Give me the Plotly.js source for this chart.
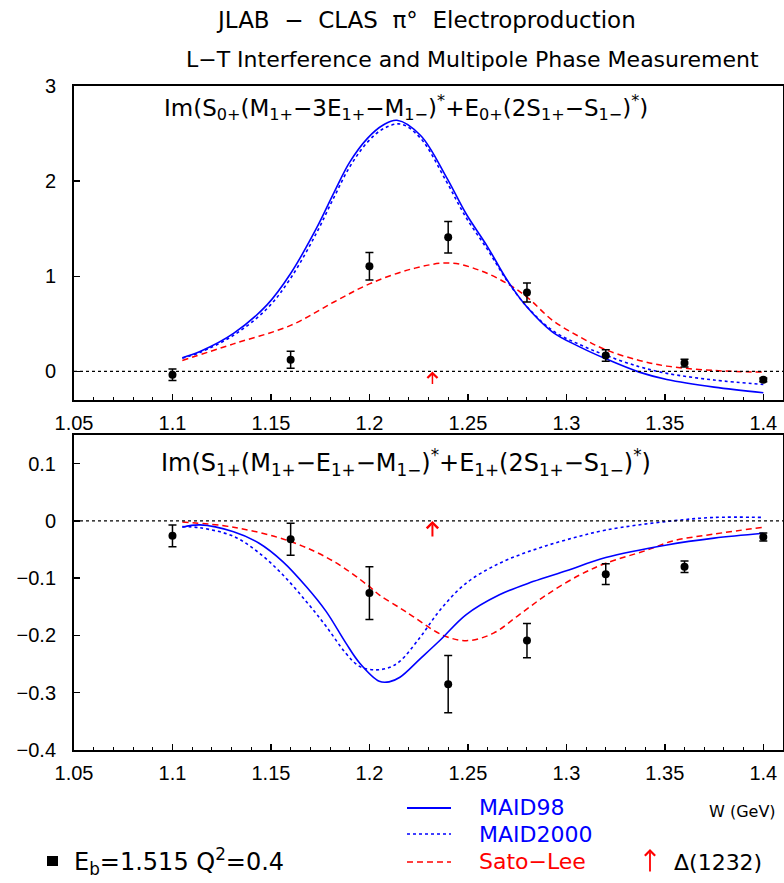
<!DOCTYPE html>
<html>
<head>
<meta charset="utf-8">
<script src="https://cdn.plot.ly/plotly-3.0.1.min.js"></script>
<style>
  html, body { margin: 0; padding: 0; background: #fff; }
  #chart { width: 784px; height: 883px; }
</style>
</head>
<body>
<div id="chart"></div>
<script>
// ---- measured points (W in GeV) ----
const W_DATA = [1.10, 1.16, 1.20, 1.24, 1.28, 1.32, 1.36, 1.40];

// Im(S0+(M1+ - 3E1+ - M1-)* + E0+(2S1+ - S1-)*)
const S0_VAL = [-0.035, 0.123, 1.105, 1.41, 0.83, 0.168, 0.088, -0.088];
const S0_ERR = [0.06, 0.09, 0.145, 0.165, 0.10, 0.06, 0.04, 0.02];

// Im(S1+(M1+ - E1+ - M1-)* + E1+(2S1+ - S1-)*)
const S1_VAL = [-0.026, -0.032, -0.126, -0.285, -0.209, -0.093, -0.080, -0.028];
const S1_ERR = [0.019, 0.028, 0.046, 0.05, 0.03, 0.018, 0.01, 0.007];

// ---- model curves, upper panel ----
const TOP_MAID98_W = [1.105, 1.114, 1.131, 1.148, 1.160, 1.173, 1.182, 1.190, 1.199, 1.207, 1.214, 1.226, 1.239, 1.249, 1.260, 1.270, 1.280, 1.293, 1.307, 1.320, 1.337, 1.351, 1.375, 1.400];
const TOP_MAID98_V = [0.145, 0.21, 0.40, 0.70, 1.03, 1.50, 1.88, 2.20, 2.45, 2.59, 2.64, 2.48, 2.045, 1.66, 1.31, 0.958, 0.677, 0.414, 0.256, 0.133, -0.007, -0.084, -0.165, -0.224];

const TOP_MAID2000_W = [1.105, 1.114, 1.131, 1.148, 1.160, 1.173, 1.182, 1.190, 1.199, 1.207, 1.216, 1.226, 1.239, 1.249, 1.260, 1.270, 1.280, 1.293, 1.307, 1.320, 1.337, 1.351, 1.375, 1.400];
const TOP_MAID2000_V = [0.14, 0.20, 0.38, 0.66, 0.98, 1.45, 1.83, 2.15, 2.41, 2.55, 2.60, 2.45, 2.0, 1.62, 1.28, 0.95, 0.68, 0.43, 0.28, 0.17, 0.05, -0.02, -0.09, -0.137];

const TOP_SATOLEE_W = [1.105, 1.131, 1.160, 1.182, 1.200, 1.222, 1.241, 1.256, 1.270, 1.280, 1.293, 1.307, 1.320, 1.337, 1.351, 1.375, 1.400];
const TOP_SATOLEE_V = [0.116, 0.29, 0.484, 0.73, 0.92, 1.08, 1.14, 1.063, 0.923, 0.782, 0.537, 0.361, 0.228, 0.116, 0.056, 0.01, -0.007];

// ---- model curves, lower panel ----
const BOT_MAID98_W = [1.105, 1.114, 1.131, 1.144, 1.156, 1.168, 1.178, 1.188, 1.195, 1.205, 1.210, 1.2155, 1.226, 1.236, 1.249, 1.266, 1.283, 1.300, 1.320, 1.351, 1.375, 1.400];
const BOT_MAID98_V = [-0.011, -0.007, -0.019, -0.039, -0.071, -0.115, -0.158, -0.213, -0.248, -0.280, -0.281, -0.273, -0.240, -0.208, -0.164, -0.129, -0.106, -0.087, -0.064, -0.042, -0.030, -0.0215];

const BOT_MAID2000_W = [1.105, 1.114, 1.131, 1.144, 1.156, 1.168, 1.178, 1.188, 1.195, 1.203, 1.210, 1.2155, 1.226, 1.236, 1.249, 1.266, 1.283, 1.300, 1.320, 1.351, 1.375, 1.400];
const BOT_MAID2000_V = [-0.010, -0.012, -0.027, -0.056, -0.094, -0.141, -0.184, -0.231, -0.254, -0.260, -0.256, -0.245, -0.202, -0.155, -0.109, -0.074, -0.051, -0.033, -0.016, -0.001, 0.006, 0.006];

const BOT_SATOLEE_W = [1.105, 1.131, 1.160, 1.182, 1.199, 1.2053, 1.2155, 1.2222, 1.2375, 1.250, 1.263, 1.276, 1.290, 1.307, 1.320, 1.341, 1.354, 1.375, 1.400];
const BOT_SATOLEE_V = [-0.002, -0.011, -0.036, -0.071, -0.112, -0.13, -0.152, -0.167, -0.200, -0.209, -0.196, -0.164, -0.129, -0.094, -0.074, -0.051, -0.035, -0.023, -0.011];

// Delta(1232) resonance position
const DELTA_W = 1.232;

// ---- tick labels ----
const X_TICKS = [1.05, 1.1, 1.15, 1.2, 1.25, 1.3, 1.35, 1.4];
const X_TICK_TEXT = ['1.05', '1.1', '1.15', '1.2', '1.25', '1.3', '1.35', '1.4'];
const Y1_TICKS = [0, 1, 2, 3];
const Y2_TICKS = [-0.4, -0.3, -0.2, -0.1, 0, 0.1];
const Y2_TICK_TEXT = ['\u22120.4', '\u22120.3', '\u22120.2', '\u22120.1', '0', '0.1'];

// ---- page geometry helpers (pixels -> paper) ----
const PW = 784, PH = 883;
const px = v => v / PW;
const py = v => 1 - v / PH;

const FONT = 'Liberation Sans, Arial, sans-serif';
const TFONT = 'DejaVu Sans, sans-serif';
const BLUE = '#0000ff', RED = '#ff0000';
const SP = '\u00a0';

function curve(x, y, xa, ya, color, dash, width) {
  return {
    x: x, y: y, xaxis: xa, yaxis: ya, type: 'scatter', mode: 'lines',
    line: { color: color, dash: dash, width: width, shape: 'spline', smoothing: 1 },
    hoverinfo: 'skip', showlegend: false
  };
}
function points(y, err, xa, ya) {
  return {
    x: W_DATA, y: y, xaxis: xa, yaxis: ya, type: 'scatter', mode: 'markers',
    marker: { color: '#000', size: 8, symbol: 'circle' },
    error_y: { type: 'data', array: err, visible: true, color: '#000', thickness: 1.5, width: 4 },
    showlegend: false
  };
}

const traces = [
  curve(TOP_SATOLEE_W, TOP_SATOLEE_V, 'x', 'y', RED, '6px,4px', 1.5),
  curve(TOP_MAID2000_W, TOP_MAID2000_V, 'x', 'y', BLUE, 'dot', 1.6),
  curve(TOP_MAID98_W, TOP_MAID98_V, 'x', 'y', BLUE, 'solid', 1.6),
  points(S0_VAL, S0_ERR, 'x', 'y'),
  curve(BOT_SATOLEE_W, BOT_SATOLEE_V, 'x2', 'y2', RED, '6px,4px', 1.5),
  curve(BOT_MAID2000_W, BOT_MAID2000_V, 'x2', 'y2', BLUE, 'dot', 1.6),
  curve(BOT_MAID98_W, BOT_MAID98_V, 'x2', 'y2', BLUE, 'solid', 1.6),
  points(S1_VAL, S1_ERR, 'x2', 'y2')
];

const xCommon = {
  range: [1.05, 1.41], tickmode: 'array', tickvals: X_TICKS, ticktext: X_TICK_TEXT,
  ticks: 'inside', ticklen: 6, tickwidth: 1.5, tickcolor: '#000',
  minor: { ticks: 'inside', ticklen: 3, dtick: 0.01, tickcolor: '#000', tickwidth: 1 },
  showline: true, linecolor: '#000', linewidth: 2, mirror: true,
  showgrid: false, zeroline: false,
  tickfont: { family: FONT, size: 20, color: '#000' }, ticklabelstandoff: 4,
  domain: [px(74), px(783)]
};
const yCommon = {
  ticks: 'inside', ticklen: 6, tickwidth: 1.5, tickcolor: '#000',
  showline: true, linecolor: '#000', linewidth: 2, mirror: true,
  showgrid: false, zeroline: false,
  tickfont: { family: FONT, size: 20, color: '#000' }, ticklabelstandoff: 12
};

const layout = {
  width: PW, height: PH,
  margin: { l: 0, r: 0, t: 0, b: 0 },
  paper_bgcolor: '#fff', plot_bgcolor: '#fff',
  showlegend: false,
  xaxis: Object.assign({}, xCommon, { anchor: 'y' }),
  xaxis2: Object.assign({}, xCommon, { anchor: 'y2' }),
  yaxis: Object.assign({}, yCommon, {
    anchor: 'x', range: [-0.3, 3], tickmode: 'array', tickvals: Y1_TICKS,
    domain: [py(400), py(86)]
  }),
  yaxis2: Object.assign({}, yCommon, {
    anchor: 'x2', range: [-0.4, 0.15], tickmode: 'array', tickvals: Y2_TICKS, ticktext: Y2_TICK_TEXT,
    domain: [py(750), py(435)]
  }),
  shapes: [
    // zero reference lines
    { type: 'line', xref: 'x domain', yref: 'y', x0: 0, x1: 1, y0: 0, y1: 0, line: { color: '#000', width: 1.2, dash: 'dot' } },
    { type: 'line', xref: 'x2 domain', yref: 'y2', x0: 0, x1: 1, y0: 0, y1: 0, line: { color: '#000', width: 1.2, dash: 'dot' } },
    // legend keys
    { type: 'line', xref: 'paper', yref: 'paper', x0: px(407), x1: px(451), y0: py(808), y1: py(808), line: { color: BLUE, width: 2 } },
    { type: 'line', xref: 'paper', yref: 'paper', x0: px(407), x1: px(451), y0: py(834), y1: py(834), line: { color: BLUE, width: 1.6, dash: 'dot' } },
    { type: 'line', xref: 'paper', yref: 'paper', x0: px(407), x1: px(451), y0: py(862), y1: py(862), line: { color: RED, width: 1.6, dash: '6px,4px' } },
    // beam-setting marker
    { type: 'rect', xref: 'paper', yref: 'paper', x0: px(47), x1: px(58), y0: py(866), y1: py(856), line: { width: 0 }, fillcolor: '#000' }
  ],
  annotations: [
    { xref: 'paper', yref: 'paper', x: px(426), y: py(20), xanchor: 'center', yanchor: 'middle', showarrow: false,
      text: 'JLAB' + SP + SP + '\u2212' + SP + SP + 'CLAS' + SP + SP + '\u03c0\u00b0' + SP + SP + 'Electroproduction', font: { family: TFONT, size: 23, color: '#000' } },
    { xref: 'paper', yref: 'paper', x: px(472), y: py(60), xanchor: 'center', yanchor: 'middle', showarrow: false,
      text: 'L\u2212T Interference and Multipole Phase Measurement', font: { family: TFONT, size: 22, color: '#000' } },
    { xref: 'paper', yref: 'paper', x: px(406), y: py(108), xanchor: 'center', yanchor: 'middle', showarrow: false,
      text: 'Im(S<sub>0+</sub>(M<sub>1+</sub>\u22123E<sub>1+</sub>\u2212M<sub>1\u2212</sub>)<sup>*</sup>+E<sub>0+</sub>(2S<sub>1+</sub>\u2212S<sub>1\u2212</sub>)<sup>*</sup>)',
      font: { family: TFONT, size: 23, color: '#000' } },
    { xref: 'paper', yref: 'paper', x: px(406), y: py(462), xanchor: 'center', yanchor: 'middle', showarrow: false,
      text: 'Im(S<sub>1+</sub>(M<sub>1+</sub>\u2212E<sub>1+</sub>\u2212M<sub>1\u2212</sub>)<sup>*</sup>+E<sub>1+</sub>(2S<sub>1+</sub>\u2212S<sub>1\u2212</sub>)<sup>*</sup>)',
      font: { family: TFONT, size: 24, color: '#000' } },
    // Delta(1232) markers
    { xref: 'x', yref: 'y', x: DELTA_W, y: 0, ax: 0, ay: 14, text: '', showarrow: true,
      arrowhead: 4, arrowsize: 1.3, arrowwidth: 1.5, arrowcolor: RED, standoff: 0 },
    { xref: 'x2', yref: 'y2', x: DELTA_W, y: 0, ax: 0, ay: 17, text: '', showarrow: true,
      arrowhead: 4, arrowsize: 1.1, arrowwidth: 2, arrowcolor: RED, standoff: 0 },
    // legend texts
    { xref: 'paper', yref: 'paper', x: px(477), y: py(807), xanchor: 'left', yanchor: 'middle', showarrow: false,
      text: 'MAID98', font: { family: TFONT, size: 22, color: BLUE } },
    { xref: 'paper', yref: 'paper', x: px(477), y: py(834), xanchor: 'left', yanchor: 'middle', showarrow: false,
      text: 'MAID2000', font: { family: TFONT, size: 22, color: BLUE } },
    { xref: 'paper', yref: 'paper', x: px(477), y: py(861), xanchor: 'left', yanchor: 'middle', showarrow: false,
      text: 'Sato\u2212Lee', font: { family: TFONT, size: 22, color: RED } },
    { xref: 'paper', yref: 'paper', x: px(707), y: py(811), xanchor: 'left', yanchor: 'middle', showarrow: false,
      text: 'W (GeV)', font: { family: TFONT, size: 16, color: '#000' } },
    { xref: 'paper', yref: 'paper', x: px(650), y: py(849), ax: 0, ay: 24, text: '', showarrow: true,
      arrowhead: 4, arrowsize: 1.1, arrowwidth: 1.8, arrowcolor: RED, standoff: 0 },
    { xref: 'paper', yref: 'paper', x: px(672), y: py(862), xanchor: 'left', yanchor: 'middle', showarrow: false,
      text: '\u0394(1232)', font: { family: TFONT, size: 22, color: '#000' } },
    { xref: 'paper', yref: 'paper', x: px(72), y: py(861), xanchor: 'left', yanchor: 'middle', showarrow: false,
      text: 'E<sub>b</sub>=1.515' + SP + 'Q<sup>2</sup>=0.4', font: { family: TFONT, size: 24, color: '#000' } }
  ]
};

Plotly.newPlot('chart', traces, layout, { staticPlot: true, displayModeBar: false });
</script>
</body>
</html>
